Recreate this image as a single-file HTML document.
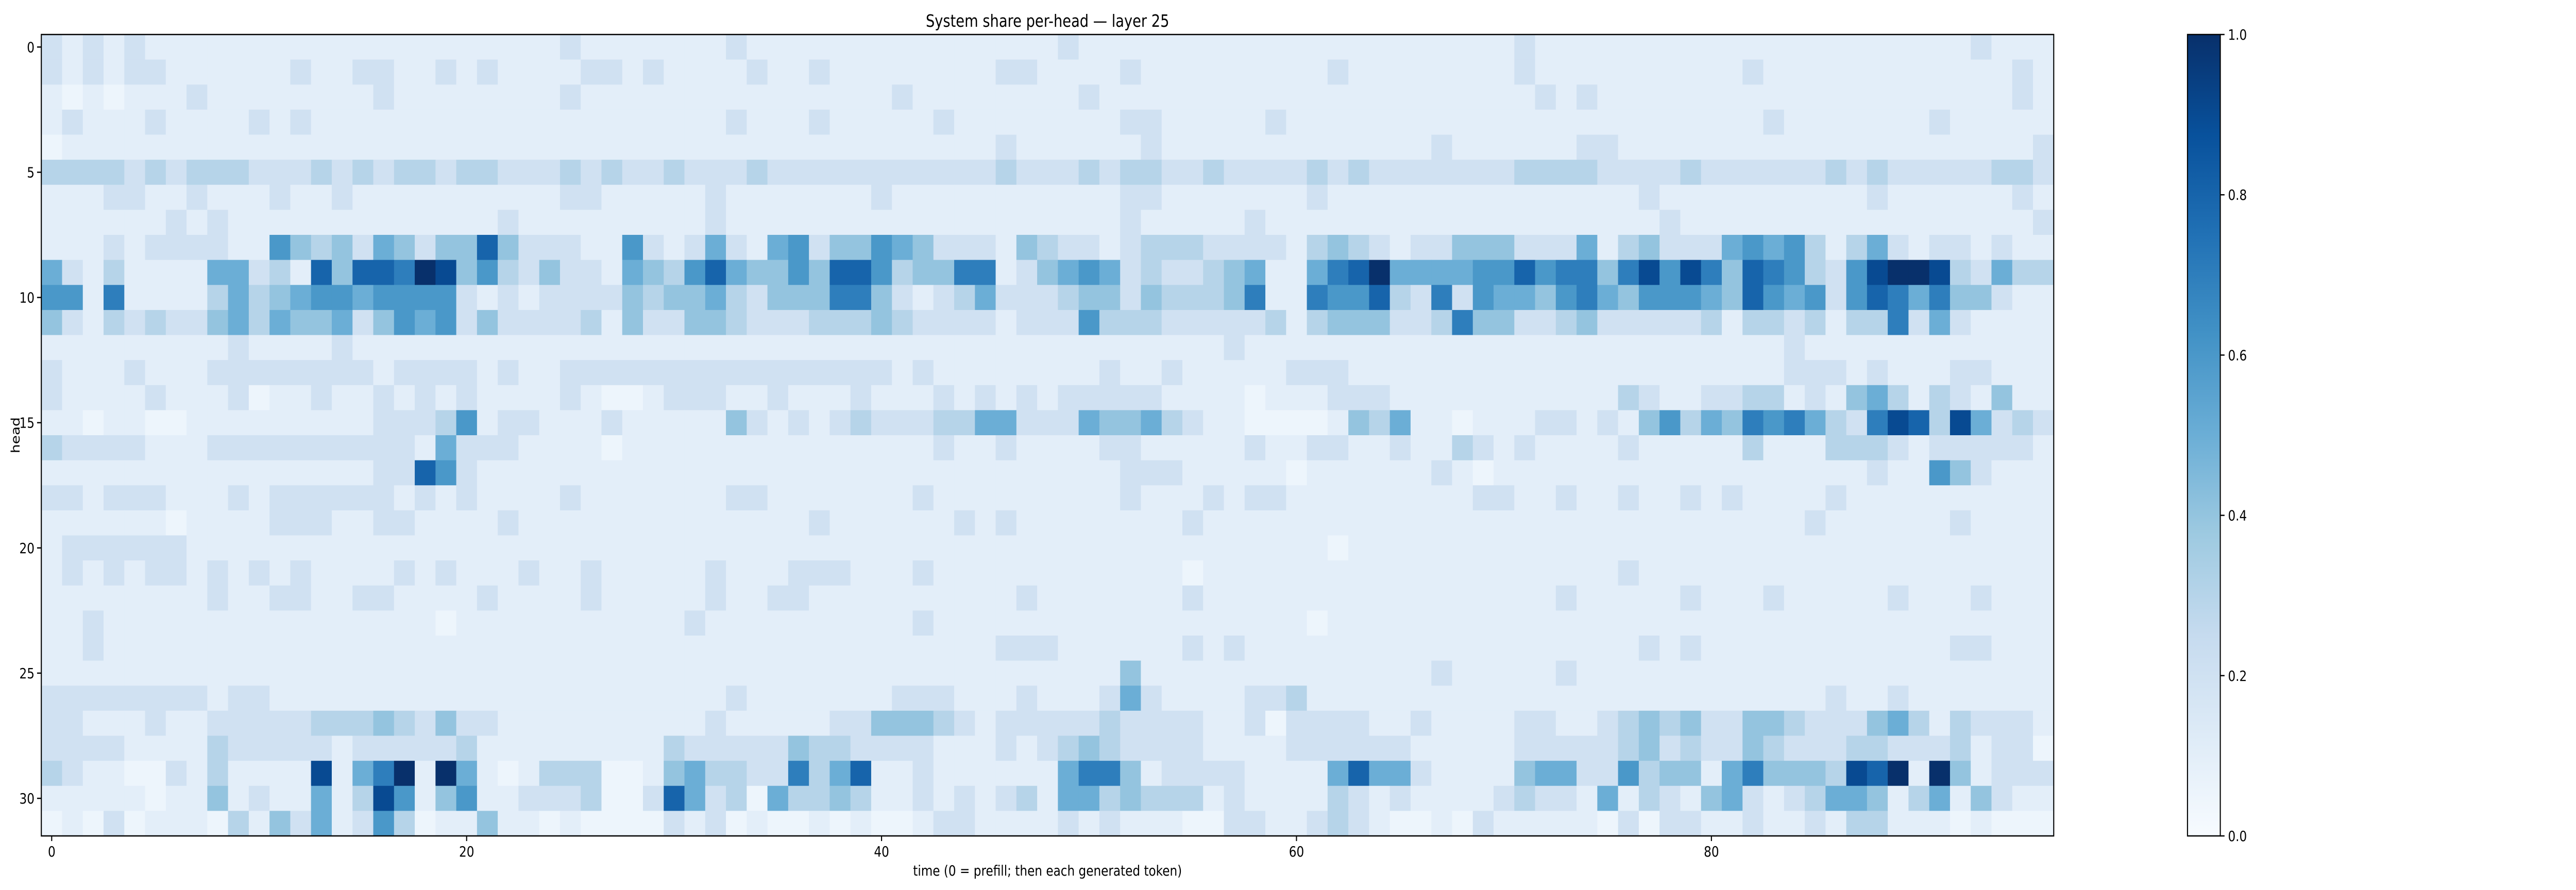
<!DOCTYPE html>
<html><head><meta charset="utf-8"><title>System share per-head — layer 25</title>
<style>html,body{margin:0;padding:0;background:#fff;overflow:hidden;}svg{display:block;width:100vw;height:100vh;font-family:"DejaVu Sans","Liberation Sans",sans-serif;}</style>
</head><body>
<svg id="chart" viewBox="0 0 6047 1728" preserveAspectRatio="none" xmlns="http://www.w3.org/2000/svg">
<defs>
<linearGradient id="cbgrad" x1="0" y1="1" x2="0" y2="0">
<stop offset="0" stop-color="#f7fbff"/><stop offset="0.125" stop-color="#deebf7"/><stop offset="0.25" stop-color="#c6dbef"/><stop offset="0.375" stop-color="#9ecae1"/><stop offset="0.5" stop-color="#6baed6"/><stop offset="0.625" stop-color="#4292c6"/><stop offset="0.75" stop-color="#2171b5"/><stop offset="0.875" stop-color="#08519c"/><stop offset="1" stop-color="#08306b"/>
</linearGradient>
</defs>
<text x="2459" y="52" font-size="33" text-anchor="middle" fill="#000">System share per-head — layer 25</text>
<g id="cells"></g>
<rect x="97" y="67" width="4724" height="1556" fill="none" stroke="#000" stroke-width="2.5"/>
<g id="axes"></g>
<text x="2459" y="1700" font-size="28" text-anchor="middle">time (0 = prefill; then each generated token)</text>
<text x="46" y="845" font-size="28" text-anchor="middle" transform="rotate(-90 46 845)">head</text>
<rect x="5135" y="67" width="77" height="1556" fill="url(#cbgrad)" stroke="#000" stroke-width="2.5"/>
<g id="cbaxis"></g>
</svg>
<script>
// values per head (row) as digit strings: digit/10, 'a' = 1.0, '0' = near-zero
const headRows = [
"2121211111111111111111111211111112111111111111111211111111111111111111121111111111111111111112111",
"2121221111112112211212111122121111211211111111221111211111111121111111121111111111211111111111121",
"1010111211111111211111111211111111111111121111111121111111111111111111112121111111111111111111121",
"1211121111212111111111111111111112111211111211111111221111121111111111111111111111121111111211111",
"0111111111111111111111111111111111111111111111211111121111111111111211111122111111111111111111112",
"3333232333222323233233222323223222322222222222322232332232222323222222233332222322222232322222332",
"1112211211121121111111111221111121111111211111111111221111111211111111111111121111111111211111121",
"1111112121111111111111211111111121111111111111111111211111211111111111111111112111111111111111112",
"111212222116434254244842221162125215624465422214"+"3"+"221233322221343212244422251342225656313521221211",
"5213111155231848 87a94632422154368544648863447712".replace(" ","")+"4"+"565232234511578a55556686774796974876326 9aa932533".replace(" ",""),
"661711113534566566662121222243445324447742123522"+"2"+"344243334711766832726554675466654865626875744211",
"421323224535445246562422223142244322233343222212"+"2"+"263332222231344422374422342222231332313372521111",
"1111111112111121111111111111111111111111111111111111111112111111111111111111111111112111111111111",
"2111211122222222122221211222222222222222212111111112112111112221111111111111111111112221211122111",
"211112111201121121212111121001222112111211121212"+"1"+"222221111011122211111111111321122331214531321411",
"110110011111111122236122111211111421212322233552"+"2"+"254453211000014351101112212146354767532798395232",
"322221112222222222152221111011111111111111121121"+"1"+"112211111211221121132121111211111311133321222221",
"111111111111111122862111111111111111111111111111"+"1"+"111222111110111111210111111111111111111211642111",
"2212221112122222212121111211111112211111112111111111211121221111111112211211211212111121111111",
"1111110111122211221111211111111111111211111121211111111211111111111111111111111111111211111121",
"1222222111111111111111111111111111111111111111111111111111111101111111111111111111111111111111111",
"1212122121212111121211121121111121112221112111111111111011111111111111111111211111111111111111111",
"1111111121122112211112111121111121122111111111121111111211111111111111111211111211121111121112111",
"1121111111111111111011111111111211111111112111111111111111111011111111111111111111111111111111111",
"1121111111111111111111111111111111111111111111222111111212111111111111111111121211111111111122111",
"1111111111111111111111111111111111111111111111111111411111111111111211111211111111111111111111111",
"222222221221111111111111111111111211111112221112"+"1"+"112521111223111111111111111111111111121121111111",
"221112112222233343242211111111112111112244432122"+"2"+"223222211202222112111122112343422443222453132221",
"222211113222221222223111111111322222433222211121"+"2"+"343222211112222221111122222342322432223322231220",
"32110021311119157a1a5101333001453322735811211111"+"1"+"577412222111158552111145522634415744439 8a1a41222".replace(" ",""),
"111110114121151396146112223002852305334311212123"+"1"+"553433312111132121111232215132145212355413514211",
"010201110314251263011411010000212010010100122111"+"1"+"212111002211232100102111110202211211213311101000"
];
const timeTicks = [0, 20, 40, 60, 80];
const headTicks = [0, 5, 10, 15, 20, 25, 30];
const cbTicks = [0.0, 0.2, 0.4, 0.6, 0.8, 1.0];
const nTime = 97, nHead = 32;

const NS = "http://www.w3.org/2000/svg";
const X0 = 97, X1 = 4821, Y0 = 67, Y1 = 1623;
const cw = (X1 - X0) / nTime, ch = (Y1 - Y0) / nHead;
function xPos(t){ return X0 + t * cw; }
function yPos(h){ return Y0 + h * ch; }
const stops = [[0,[247,251,255]],[0.125,[222,235,247]],[0.25,[198,219,239]],[0.375,[158,202,225]],[0.5,[107,174,214]],[0.625,[66,146,198]],[0.75,[33,113,181]],[0.875,[8,81,156]],[1,[8,48,107]]];
function blues(v){
  v = Math.max(0, Math.min(1, v));
  for (let i = 1; i < stops.length; i++) {
    if (v <= stops[i][0]) {
      const a = stops[i-1], b = stops[i], f = (v - a[0]) / (b[0] - a[0]);
      const c = a[1].map((x, k) => Math.round(x + (b[1][k] - x) * f));
      return "rgb(" + c.join(",") + ")";
    }
  }
  return "rgb(8,48,107)";
}
function parseRow(s){
  s = s.replace(/\s/g, "");
  while (s.length < nTime) s += "1";
  s = s.slice(0, nTime);
  return s.split("").map(c => c === "a" ? 1.0 : (c === "0" ? 0.05 : parseInt(c, 10) / 10));
}
const values = headRows.map(parseRow);
const cells = document.getElementById("cells");
for (let h = 0; h < nHead; h++) {
  for (let t = 0; t < nTime; t++) {
    const r = document.createElementNS(NS, "rect");
    r.setAttribute("x", xPos(t).toFixed(2));
    r.setAttribute("y", yPos(h).toFixed(2));
    r.setAttribute("width", (cw + 0.6).toFixed(2));
    r.setAttribute("height", (ch + 0.6).toFixed(2));
    r.setAttribute("fill", blues(values[h][t]));
    
    
    cells.appendChild(r);
  }
}
const axes = document.getElementById("axes");
function line(g, x1, y1, x2, y2){
  const l = document.createElementNS(NS, "line");
  l.setAttribute("x1", x1); l.setAttribute("y1", y1); l.setAttribute("x2", x2); l.setAttribute("y2", y2);
  l.setAttribute("stroke", "#000"); l.setAttribute("stroke-width", "2.5");
  g.appendChild(l);
}
function text(g, x, y, s, anchor){
  const t = document.createElementNS(NS, "text");
  t.setAttribute("x", x); t.setAttribute("y", y);
  t.setAttribute("font-size", "28"); t.setAttribute("text-anchor", anchor);
  t.textContent = s;
  g.appendChild(t);
  return t;
}
timeTicks.forEach(v => {
  const x = xPos(v + 0.5);
  line(axes, x, Y1, x, Y1 + 10);
  const t = text(axes, x, Y1 + 40, String(v), "middle");
  
  
});
headTicks.forEach(v => {
  const y = yPos(v + 0.5);
  line(axes, X0 - 10, y, X0, y);
  const t = text(axes, X0 - 16, y + 10, String(v), "end");
  
  
});
const cb = document.getElementById("cbaxis");
cbTicks.forEach(v => {
  const y = Y1 - v * (Y1 - Y0);
  line(cb, 5212, y, 5222, y);
  const t = text(cb, 5230, y + 10, v.toFixed(1), "start");
  
  
});
</script>
</body></html>
